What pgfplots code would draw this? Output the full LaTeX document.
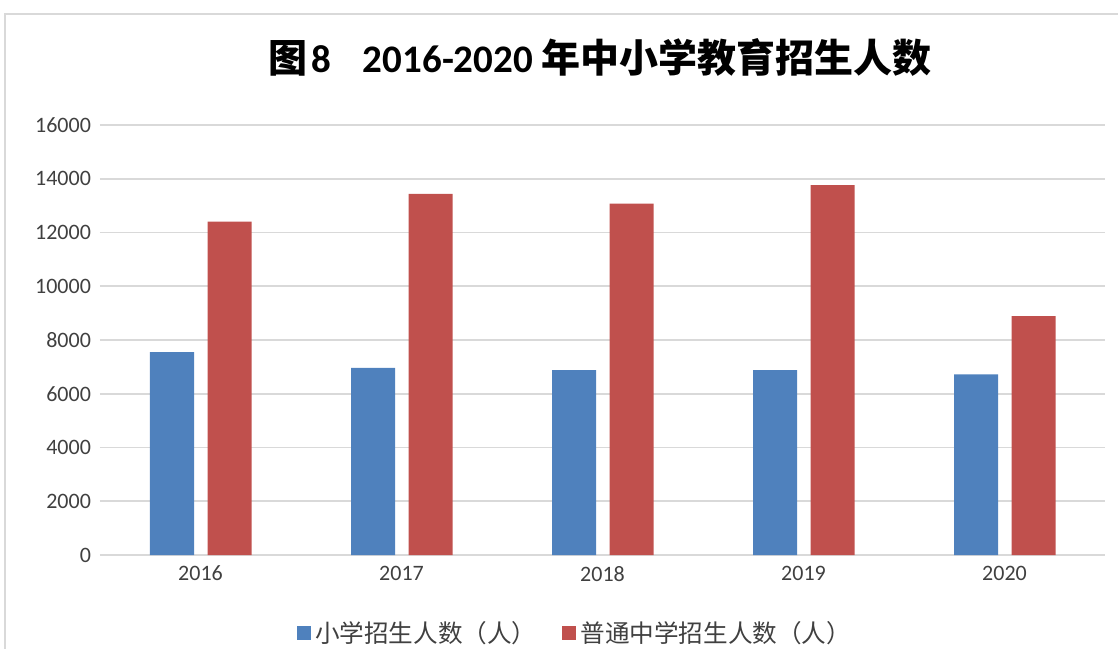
\documentclass[border=0pt]{standalone}
\usepackage{fontspec}
\setmainfont{Carlito}
\newfontfamily\cjk{Noto Sans CJK SC}
\usepackage{pgfplots}
\pgfplotsset{compat=1.18}
\definecolor{sblue}{HTML}{4F81BD}
\definecolor{sred}{HTML}{C0504D}
\definecolor{gridc}{HTML}{D9D9D9}
\definecolor{txt}{HTML}{404040}
\begin{document}
\begin{tikzpicture}
\useasboundingbox (-50pt,-46.5pt) rectangle (509pt,277.5pt);
\begin{scope}
\clip (-50pt,-46.5pt) rectangle (509pt,277.5pt);
\draw[gridc, line width=0.8pt] (-47.5pt,-60pt) rectangle (520pt,270.5pt);
\end{scope}
\begin{axis}[
  at={(0,0)}, anchor=south west,
  scale only axis, width=502.5pt, height=215pt,
  xmin=-0.5, xmax=4.5, ymin=0, ymax=16000,
  xtick={0,1,2,3,4}, xticklabels={2016,2017,2018,2019,2020},
  ytick={0,2000,4000,6000,8000,10000,12000,14000,16000},
  scaled y ticks=false,
  /pgf/number format/assume math mode=true,
  /pgf/number format/set thousands separator={},
  ymajorgrids, grid style={gridc, line width=0.8pt},
  axis x line*=bottom, axis y line*=left,
  x axis line style={gridc, line width=0.8pt, -},
  y axis line style={draw=none},
  major tick length=0pt,
  tick label style={font=\fontsize{11pt}{13pt}\selectfont, text=txt},
  yticklabel style={xshift=-1pt},
  xticklabel style={yshift=-2pt},
  ybar, bar width=22pt,
  legend style={at={(0.4737,0)}, anchor=center, yshift=-39pt, draw=none, fill=none,
    font=\cjk\fontsize{12.3pt}{14pt}\selectfont, text=txt,
    legend columns=2, /tikz/every even column/.append style={column sep=11pt}},
  legend image code/.code={\fill[#1] (0pt,-3.5pt) rectangle (7pt,3.5pt);},
]
\addplot[fill=sblue, draw=none, bar shift=-14.25pt] coordinates {(0,7550) (1,6960) (2,6880) (3,6880) (4,6720)};
\addplot[fill=sred, draw=none, bar shift=14.5pt] coordinates {(0,12400) (1,13440) (2,13070) (3,13760) (4,8890)};
\legend{小学招生人数（人）,普通中学招生人数（人）}
\end{axis}
\node[font=\fontsize{19.5pt}{22pt}\selectfont\bfseries] at (250pt,249pt) {{\cjk\bfseries 图}\hspace{2pt}8\hspace{16pt}2016-2020 {\cjk\bfseries 年中小学教育招生人数}};
\end{tikzpicture}
\end{document}
